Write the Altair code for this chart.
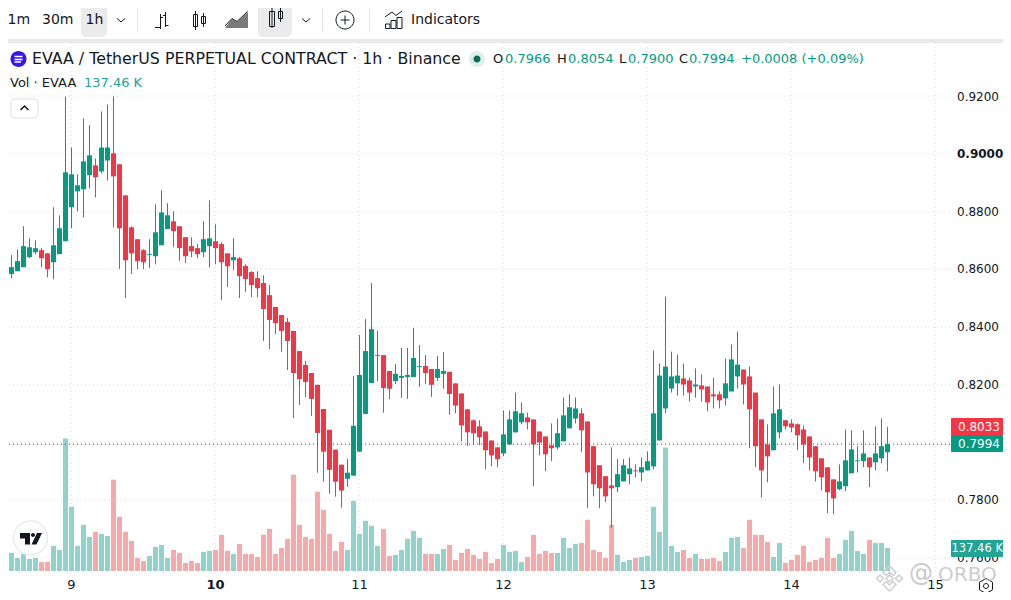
import altair as alt
import pandas as pd

hour = list(range(-11, 137))
open_ = [.8591,.8584,.8594,.8608,.8643,.8660,.8667,.8656,.8625,.8653,
.8698,.8816,.8871,.8878,.8927,.8961,.8940,.8978,.9003,.8965,
.8857,.8746,.8705,.8667,.8650,.8646,.8684,.8740,.8767,.8750,
.8712,.8681,.8674,.8660,.8681,.8698,.8688,.8656,.8632,.8639,
.8612,.8591,.8570,.8553,.8511,.8470,.8442,.8418,.8387,.8317,
.8269,.8241,.8200,.8116,.8044,.7975,.7923,.7874,.7885,.7968,
.8099,.8206,.8300,.8303,.8248,.8213,.8224,.8227,.8227,.8262,
.8265,.8255,.8224,.8238,.8245,.8205,.8170,.8115,.8077,.8056,
.8038,.8007,.7983,.7962,.7993,.8035,.8070,.8087,.8080,.8038,
.8021,.7990,.7983,.8004,.8049,.8083,.8101,.8073,.7987,.7921,
.7883,.7851,.7845,.7865,.7890,.7903,.7896,.7903,.7917,.8007,
.8118,.8187,.8205,.8222,.8215,.8194,.8198,.8194,.8167,.8167,
.8153,.8177,.8229,.8253,.8229,.8173,.8080,.7993,.7973,.8035,
.8077,.8066,.8063,.8045,.8021,.7987,.7945,.7914,.7872,.7838,
.7848,.7893,.7935,.7935,.7948,.7931,.7945,.7966]
close = [.8577,.8608,.8629,.8681,.8677,.8674,.8639,.8601,.8684,.8743,
.8937,.8930,.8892,.8975,.8996,.8920,.9023,.9023,.8923,.8743,
.8632,.8656,.8629,.8625,.8653,.8729,.8798,.8788,.8733,.8674,
.8646,.8663,.8653,.8705,.8708,.8674,.8625,.8611,.8643,.8577,
.8567,.8546,.8535,.8463,.8425,.8414,.8387,.8352,.8241,.8220,
.8210,.8151,.8033,.7968,.7905,.7864,.7833,.7895,.8058,.8234,
.8317,.8393,.8303,.8189,.8186,.8238,.8231,.8234,.8293,.8265,
.8241,.8200,.8255,.8248,.8168,.8128,.8059,.8035,.8032,.8018,
.7973,.7955,.7942,.8028,.8080,.8108,.8101,.8070,.7993,.8000,
.7959,.7980,.8032,.8094,.8122,.8118,.8042,.7896,.7855,.7841,
.7813,.7841,.7890,.7921,.7910,.7900,.7914,.7935,.8101,.8232,
.8263,.8229,.8232,.8201,.8173,.8201,.8184,.8139,.8160,.8146,
.8205,.8288,.8270,.8201,.8115,.7987,.7903,.7952,.8101,.8115,
.8056,.8052,.8025,.7993,.7948,.7900,.7879,.7827,.7806,.7865,
.7938,.7976,.7938,.7962,.7914,.7962,.7987,.7994]
high = [.8663,.8650,.8670,.8750,.8708,.8701,.8674,.8656,.8816,.8788,
.9200,.9023,.8930,.9124,.9100,.8985,.9148,.9172,.9200,.8965,
.8857,.8750,.8705,.8670,.8705,.8826,.8875,.8830,.8802,.8750,
.8712,.8712,.8688,.8767,.8840,.8757,.8695,.8656,.8708,.8643,
.8618,.8594,.8594,.8580,.8546,.8470,.8442,.8432,.8387,.8317,
.8283,.8241,.8200,.8116,.8044,.7975,.7923,.7943,.8231,.8373,
.8428,.8553,.8387,.8303,.8248,.8272,.8328,.8328,.8397,.8338,
.8303,.8255,.8300,.8314,.8245,.8205,.8170,.8115,.8080,.8077,
.8038,.8007,.7983,.8111,.8111,.8173,.8139,.8104,.8080,.8038,
.8021,.8066,.8083,.8156,.8167,.8156,.8118,.8073,.7987,.7921,
.7883,.7983,.7942,.7942,.7948,.7924,.7948,.7969,.8319,.8274,
.8506,.8315,.8305,.8274,.8225,.8257,.8236,.8194,.8225,.8177,
.8291,.8340,.8385,.8253,.8263,.8173,.8080,.8063,.8194,.8201,
.8077,.8080,.8066,.8059,.8021,.7987,.7945,.7914,.7872,.7924,
.8045,.8042,.7987,.8042,.7948,.8056,.8083,.8054]
low = [.8504,.8570,.8594,.8608,.8639,.8653,.8608,.8573,.8566,.8653,
.8698,.8743,.8802,.8781,.8881,.8850,.8933,.8909,.8746,.8601,
.8501,.8584,.8601,.8601,.8605,.8618,.8684,.8740,.8677,.8629,
.8622,.8643,.8639,.8643,.8608,.8618,.8494,.8539,.8598,.8501,
.8522,.8504,.8504,.8352,.8324,.8376,.8314,.8251,.8085,.8130,
.8158,.8092,.7895,.7864,.7822,.7812,.7774,.7846,.7885,.7968,
.8099,.8206,.8213,.8103,.8151,.8203,.8155,.8151,.8227,.8193,
.8203,.8158,.8213,.8186,.8096,.8101,.8004,.7987,.7993,.7990,
.7907,.7917,.7914,.7952,.7993,.8035,.8063,.8045,.7848,.7955,
.7900,.7935,.7976,.8004,.8049,.8066,.7966,.7772,.7813,.7772,
.7793,.7704,.7827,.7865,.7855,.7879,.7865,.7903,.7907,.8007,
.8101,.8173,.8163,.8163,.8142,.8156,.8142,.8108,.8118,.8118,
.8128,.8177,.8187,.8132,.7980,.7914,.7810,.7862,.7973,.8014,
.8045,.8035,.7973,.7928,.7903,.7865,.7834,.7755,.7751,.7834,
.7831,.7893,.7896,.7914,.7845,.7903,.7928,.7900]
volume_k = [144,108,78,102,72,78,54,54,150,126,
792,384,150,276,204,234,222,210,546,324,
234,180,78,60,90,144,156,78,126,108,
48,60,48,114,120,126,216,120,102,162,
102,102,84,216,252,102,138,192,576,276,
204,192,474,366,222,120,174,126,420,222,
300,270,150,252,90,96,126,192,240,198,
102,102,102,132,156,66,108,132,96,72,
114,48,72,156,114,120,54,84,216,102,
120,108,108,198,138,162,168,306,126,114,
78,276,96,54,66,78,84,90,384,234,
738,150,114,126,78,102,72,72,78,60,
114,198,204,138,306,216,216,174,84,168,
48,66,96,150,54,66,78,198,78,102,
186,240,120,102,186,168,168,137.46]
price_ticks = [0.76,0.78,0.80,0.82,0.84,0.86,0.88,0.90,0.92]
day_ticks = [0,24,48,72,96,120,144]
last_price = [0.7994]

FONT = "DejaVu Sans"
INK = "#131722"
UP, DOWN = "#089981", "#F23645"
UPV, DOWNV = "#92D2CC", "#F7A8A8"
TEAL = "#22A394"

df = pd.DataFrame({"t":hour,"o":open_,"h":high,"l":low,"c":close,"v":volume_k})
df["top"] = df[["o","c"]].max(axis=1)
df["bot"] = df[["o","c"]].min(axis=1)
df["col"] = [UP if c >= o else DOWN for o,c in zip(open_,close)]
df["volcol"] = [UPV if c >= o else DOWNV for o,c in zip(open_,close)]
df["zero"] = 0.0

W, H = 942, 529
XDOM = [-10.5833, 146.4167]
YDOM = [0.92-475.5/2883, 0.92+53.5/2883]
VDOM = [-5.98, 3157]
GRID = "#D4D6DA"

xs = alt.Scale(domain=XDOM, nice=False, zero=False, padding=0)
ys = alt.Scale(domain=YDOM, nice=False, zero=False)
vs = alt.Scale(domain=VDOM, nice=False, zero=False)

xaxis = alt.Axis(values=day_ticks, labelExpr="format(datum.value/24+9,'d')", title=None, ticks=False,
                 domain=False, grid=True, gridDash=[1,3], gridColor=GRID, translate=0,
                 labelFont=FONT, labelFontSize=13, labelColor=INK, labelPadding=7, labelOverlap=False,
                 labelFontWeight={"condition":{"test":"datum.value == 24","value":"bold"},"value":"normal"})
yaxis = alt.Axis(values=price_ticks, format=".4f", orient="right", title=None, ticks=False,
                 domain=False, grid=True, gridDash=[1,3], gridColor=GRID, translate=0,
                 labelFont=FONT, labelFontSize=12, labelColor=INK, labelPadding=7, labelOverlap=False,
                 labelFontWeight={"condition":{"test":"datum.value == 0.9","value":"bold"},"value":"normal"})

base = alt.Chart(df)
X = alt.X("t:Q", scale=xs, axis=xaxis)

vol = base.mark_bar(size=5, orient="vertical").encode(
    x=X, y=alt.Y("v:Q", scale=vs, axis=None), y2="zero:Q",
    color=alt.Color("volcol:N", scale=None, legend=None))
wick = base.mark_rule(strokeWidth=1).encode(
    x=X, y=alt.Y("l:Q", scale=ys, axis=yaxis), y2="h:Q",
    color=alt.Color("col:N", scale=None, legend=None))
body = base.mark_bar(size=5, orient="vertical").encode(
    x=X, y=alt.Y("bot:Q", scale=ys, axis=None), y2="top:Q",
    color=alt.Color("col:N", scale=None, legend=None))
lastline = alt.Chart(pd.DataFrame({"p":last_price})).mark_rule(strokeDash=[1,3], color="#0B6B5A", strokeWidth=1).encode(
    y=alt.Y("p:Q", scale=ys, axis=None))

one = pd.DataFrame({"a":[0]})
def txt(s, x, y, size=13, color=INK, weight="normal", align="left", opacity=1):
    return alt.Chart(one).mark_text(text=s, font=FONT, fontSize=size, color=color, fontWeight=weight,
                                    align=align, baseline="middle", opacity=opacity).encode(
        x=alt.value(x-8), y=alt.value(y-43))
def box(x0, y0, x1, y1, fill, radius=0):
    return alt.Chart(one).mark_rect(color=fill, cornerRadius=radius, opacity=1).encode(
        x=alt.value(x0-8), x2=alt.value(x1-8), y=alt.value(y0-43), y2=alt.value(y1-43))
def fillp(d, color, opacity=1):
    return alt.Chart(one).mark_point(shape=d, size=4, filled=True, color=color, strokeWidth=0, opacity=opacity).encode(
        x=alt.value(-8), y=alt.value(-43))
def strokep(d, color, sw=1, opacity=1):
    return alt.Chart(one).mark_point(shape=d, size=4, filled=False, color=color, strokeWidth=sw, opacity=opacity).encode(
        x=alt.value(-8), y=alt.value(-43))
def circ(cx, cy, r):
    return f"M{cx-r} {cy}A{r} {r} 0 1 1 {cx+r} {cy}A{r} {r} 0 1 1 {cx-r} {cy}Z"

layers = [vol, wick, body, lastline,
    box(8, 8, 1003, 39, "#FFFFFF"),
    box(8, 39, 1003, 43, "#E9E9EA"),
    box(81, 3, 107, 37, "#EBEBEB", 5),
    box(258, 3, 292, 37, "#EBEBEB", 5),
    txt("1m", 7.5, 20, 14), txt("30m", 42, 20, 14), txt("1h", 85.5, 20, 14),
    strokep("M117 18.5L121 22L125 18.5", INK, 1),
    strokep("M302 18.5L306 22L310 18.5", INK, 1),
    strokep("M137.5 9V31M322.5 9V31M369.5 9V31", "#E0E3EB", 1),
    strokep("M155 27.5H160.5M160.5 14V29M160.5 17.5H163M168.5 25.5H165.5M165.5 12V27M165.5 15.5H163", INK, 1),
    strokep("M195.5 11V30M193.5 14.5H197.5V26.5H193.5ZM203.5 13V27M201.5 16.5H205.5V23.5H201.5Z", INK, 1),
    fillp("M225 28L232 19L237 22L248 12V28Z", "#7A7A7A"),
    strokep("M225 26L232 18.5L237 21.5L247.5 11.5", INK, 1),
    strokep("M272 8V28M269.5 11.5H274.5V26.5H269.5ZM280.5 8V22M278.5 11.5H282.5V18.5H278.5Z", INK, 1),
    strokep(circ(345, 20, 9) + "M345 15.5V24.5M340.5 20H349.5", INK, 1),
    strokep("M385 17L392 12L396 15.5L402 11M385.5 28.5V24H390V28.5ZM391 28.5V20.5H396V28.5ZM397 28.5V17.5H402V28.5Z", INK, 1),
    txt("Indicators", 411, 20, 14),
    fillp(circ(18.5, 59, 8), "#3A16E8"),
    strokep("M14.5 56.5H22.5M14.5 59.5H22.5M14.5 62H21", "#FFFFFF", 1.5),
    txt("EVAA / TetherUS PERPETUAL CONTRACT · 1h · Binance", 32, 59, 15.8),
    fillp(circ(477, 59, 8), "#DDF0EC"),
    fillp(circ(477, 59, 3.5), "#0B6B5A"),
    txt("O", 493, 59), txt("0.7966", 505, 59, 13, UP),
    txt("H", 557, 59), txt("0.8054", 568, 59, 13, UP),
    txt("L", 619, 59), txt("0.7900", 628, 59, 13, UP),
    txt("C", 679, 59), txt("0.7994", 689, 59, 13, UP),
    txt("+0.0008 (+0.09%)", 741, 59, 13, UP),
    txt("Vol · EVAA", 10, 83, 13), txt("137.46 K", 84, 83, 13, TEAL),
    box(10.5, 98.5, 38.5, 118.5, "#E0E0E0", 4),
    box(11.5, 99.5, 37.5, 117.5, "#FFFFFF", 3),
    strokep("M20.5 110L24.5 106L28.5 110", INK, 1.5),
    fillp(circ(30.5, 538, 17), "#FFFFFF", 0.85),
    strokep(circ(30.5, 538, 17), "#ECECEC", 1.5),
    fillp("M20 533H30V544.5H25V538.5H20ZM37 533H42L36.5 544.5H31.5Z" + circ(33, 535, 2), "#131722"),
    box(951, 418, 1003, 435, DOWN, 1),
    box(951, 435, 1003, 452, UP, 1),
    box(951, 540, 1003, 557, TEAL, 1),
    txt("0.8033", 958, 426.5, 12, "#FFFFFF"),
    txt("0.7994", 958, 443.5, 12, "#FFFFFF"),
    txt("137.46 K", 951.5, 549, 11.5, "#FFFFFF"),
    strokep("M986 578.5L992.5 582.2V589.8L986 593.5L979.5 589.8V582.2Z" + circ(986, 586, 2.5), INK, 1),
    strokep("M889.5 566L896 572.5L893 575.5L889.5 572L886 575.5L883 572.5Z"
            "M889.5 575L893 578.5L889.5 582L886 578.5Z"
            "M880 575L883.5 578.5L880 582L876.5 578.5Z"
            "M899 575L902.5 578.5L899 582L895.5 578.5Z"
            "M886 581.5L889.5 585L893 581.5L896 584.5L889.5 591L883 584.5Z", "#CFCFCF", 1.5),
    txt("@", 909, 574, 24, "#BDBDBD", opacity=0.8),
    txt("ORBO", 938, 575, 20, "#BDBDBD", opacity=0.75),
]

chart = alt.layer(*layers).resolve_scale(y="independent").properties(
    width=W, height=H, autosize="none", background="#FFFFFF",
    padding={"left":0,"top":35,"right":53,"bottom":20}
).configure_view(stroke=None)

chart.save("out.html", embed_options={"renderer": "svg", "actions": False})
